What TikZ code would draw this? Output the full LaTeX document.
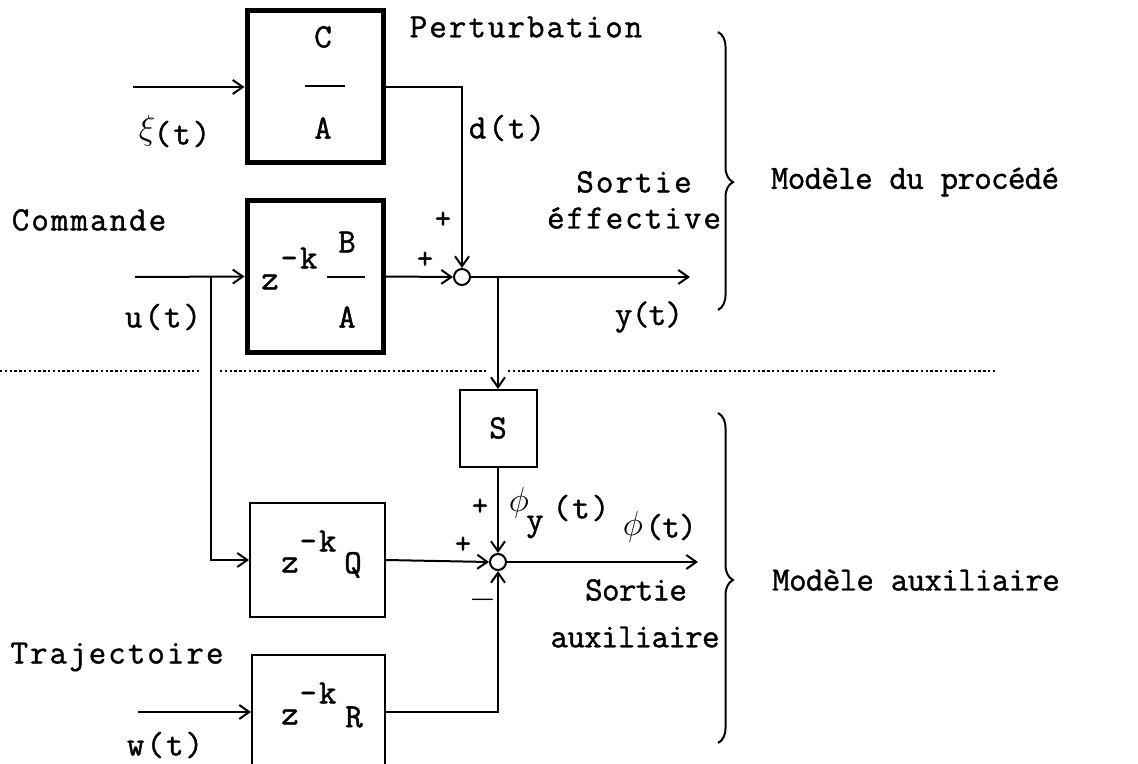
\documentclass[tikz,border=0pt]{standalone}
\usepackage{fontspec}
\setmainfont{Latin Modern Mono}
\newfontfamily\lblA{Latin Modern Mono}[LetterSpace=6,FakeBold=1.2]
\newfontfamily\lblB{Latin Modern Mono}[LetterSpace=-2,FakeBold=1.2]
\usetikzlibrary{arrows.meta,decorations.pathreplacing}
\tikzset{
  wire/.style={line width=1pt},
  arr/.style={wire,-{Straight Barb[length=5pt,width=7pt,line width=1pt]}},
  thickbox/.style={draw,line width=2.5pt,inner sep=0pt,minimum width=68pt,minimum height=76pt},
  thinbox/.style={draw,line width=1pt,inner sep=0pt},
  sumnode/.style={circle,draw,line width=1pt,minimum size=8pt,inner sep=0pt},
  lbl/.style={font=\lblA\fontsize{17}{19}\selectfont,inner sep=0pt},
  lblr/.style={font=\lblB\fontsize{17}{19}\selectfont,inner sep=0pt},
  grk/.style={font=\fontsize{18}{20}\selectfont,inner sep=0pt},
  sgn/.style={font=\lblB\fontsize{16}{18}\selectfont,inner sep=0pt},
  dotline/.style={line width=0.9pt,dash pattern=on 1.2pt off 1.2pt},
  bracestyle/.style={line width=1pt,decorate,decoration={brace,amplitude=7.5pt}}
}
\begin{document}
\begin{tikzpicture}[x=0.5pt,y=-0.5pt]
\useasboundingbox (0,0) rectangle (1138,764);
\clip (0,0) rectangle (1138,764);
% blocks
\node[thickbox] (ca) at (315,87) {};
\node[thickbox] (ba) at (315,276.5) {};
\node[thinbox,minimum width=38.5pt,minimum height=38.5pt] (s) at (498,428.5) {};
\node[thinbox,minimum width=67.5pt,minimum height=57pt] (q) at (317.5,560) {};
\node[thinbox,minimum width=66.5pt,minimum height=57pt] (r) at (318.5,712) {};
\node[sumnode] (sum1) at (462,277) {};
\node[sumnode] (sum2) at (498,562) {};
% free ends
\coordinate (xiin) at (133,87);
\coordinate (uin) at (135,277);
\coordinate (win) at (138,712);
\coordinate (yout) at (690,277);
\coordinate (phiout) at (698,562);
\coordinate (ubr) at (211,277);
\coordinate (ybr) at (498,277);
% box contents
\node[lbl] (ctxt) at (323,37) {C};
\draw[wire] (305,86) -- (345,86);
\node[lbl] (atxt1) at (323,128) {A};
\node[lbl] (z1) at (270,282) {z};
\node[lbl] (k1) at (299,258) {-k};
\node[lbl] (btxt) at (347,242) {B};
\draw[wire] (327,277) -- (365,277);
\node[lbl] (atxt2) at (347,317) {A};
\node[lbl] (stxt) at (498,428) {S};
\node[lbl] (z2) at (290,565) {z};
\node[lbl] (k2) at (318,541) {-k};
\node[lbl] (qtxt) at (353,565) {Q};
\node[lbl] (z3) at (290,717) {z};
\node[lbl] (k3) at (318,693) {-k};
\node[lbl] (rtxt) at (354,717) {R};
% connectors
\draw[arr] (xiin) -- (ca.west);
\draw[arr] (ca.east) -| (sum1.north);
\draw[arr] (uin) -- (ba.west);
\draw[arr] (ba.east) -- (sum1.west);
\draw[arr] (sum1.east) -- (yout);
\draw[arr] (ybr) -- (s.north);
\draw[arr] (s.south) -- (sum2.north);
\draw[arr] (ubr) |- (q.west);
\draw[arr] (q.east) -- (sum2.west);
\draw[arr] (sum2.east) -- (phiout);
\draw[arr] (win) -- (r.west);
\draw[arr] (r.east) -| (sum2.south);
% separator
\draw[dotline] (0,371) -- (200,371);
\draw[dotline] (220,371) -- (487,371);
\draw[dotline] (508,371) -- (997,371);
% braces
\draw[bracestyle,decoration={aspect=0.54}] (718,32) -- (718,310);
\draw[bracestyle,decoration={aspect=0.506}] (718,413) -- (718,743);
% labels
\node[lbl] (pert) at (526,27) {Perturbation};
\node[grk] (xisym) at (147,131) {$\xi$};
\node[lbl] (xit) at (182,134) {(t)};
\node[lbl] (dlbl) at (507,128) {d(t)};
\node[lbl] (cmd) at (89,220) {Commande};
\node[lbl] (ulbl) at (163,317) {u(t)};
\node[sgn] (p1) at (443,220) {+};
\node[sgn] (p2) at (425,260) {+};
\node[lbl] (sortie1) at (634,182) {Sortie};
\node[lbl] (eff) at (634,218) {éffective};
\node[lblr] (ylbl) at (649,317) {y(t)};
\node[lblr] (mproc) at (915,182) {Modèle du procédé};
\node[sgn] (p3) at (480,507) {+};
\node[grk] (phiy) at (519,503) {$\phi$};
\node[lbl] (ysub) at (535,527) {y};
\node[lbl] (phiyt) at (581,508) {(t)};
\node[grk] (phisym) at (633,527) {$\phi$};
\node[lblr] (phit) at (671,527) {(t)};
\node[sgn] (p4) at (463,545) {+};
\node[sgn] (m1) at (483,600) {$-$};
\node[lblr] (sortie2) at (636,590) {Sortie};
\node[lblr] (aux) at (635,637) {auxiliaire};
\node[lblr] (maux) at (916,580) {Modèle auxiliaire};
\node[lbl] (traj) at (117,657) {Trajectoire};
\node[lbl] (wlbl) at (165,745) {w(t)};
\end{tikzpicture}
\end{document}
